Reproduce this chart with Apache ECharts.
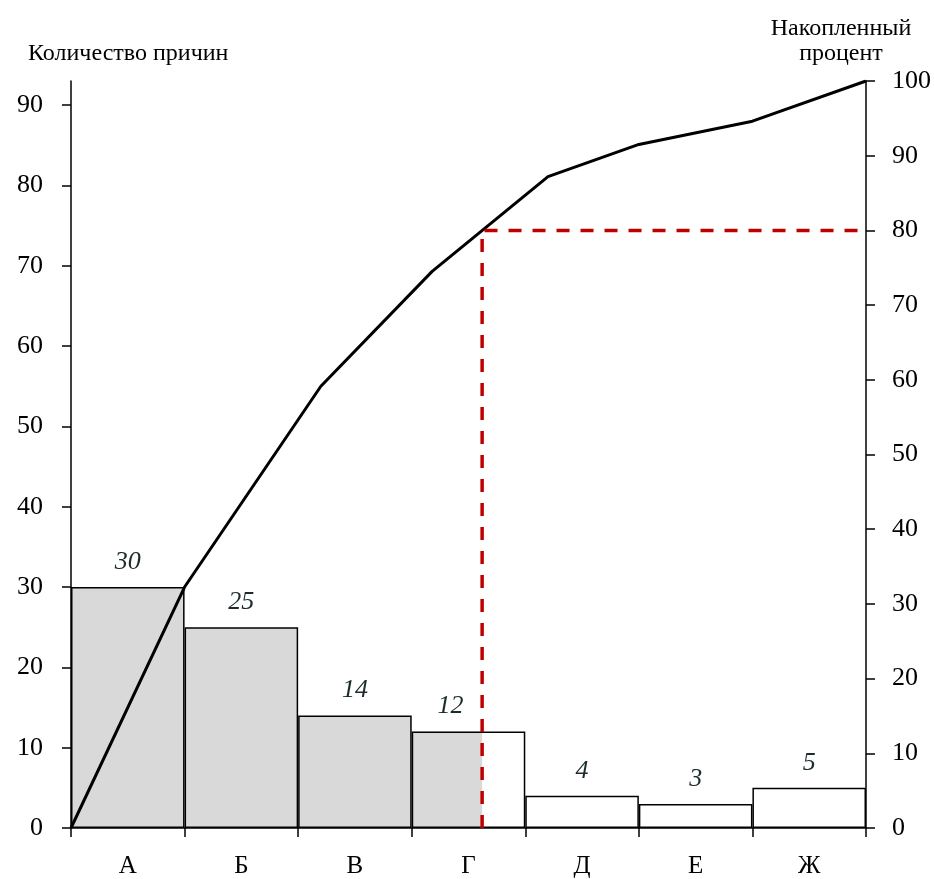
<!DOCTYPE html>
<html><head><meta charset="utf-8">
<script src="https://cdn.jsdelivr.net/npm/echarts@6/dist/echarts.min.js"></script>
<style>html,body{margin:0;padding:0;background:#fff}#c{width:934px;height:879px}</style>
</head><body><div id="c"></div>
<script>
// ---- data ----
const categories = ['А', 'Б', 'В', 'Г', 'Д', 'Е', 'Ж'];
const counts = [30, 25, 14, 12, 4, 3, 5];
const grayCount = 3; // bars fully shaded
const cumX = [0, 1, 2.2, 3.18, 4.2, 5, 6, 7];          // vertex positions in category units
const cumCounts = [0, 30, 55, 69.3, 81.1, 85.1, 88, 93]; // cumulative count at each vertex
const cutoffX = 3.62;     // position of the 80% cut
const cutoffPct = 80;
const leftTicks = [0, 10, 20, 30, 40, 50, 60, 70, 80, 90];
const rightTicks = [0, 10, 20, 30, 40, 50, 60, 70, 80, 90, 100];

const total = counts.reduce((a, b) => a + b, 0);
const FONT = '"Liberation Serif", "DejaVu Serif", serif';

const barData = counts.map((v, i) => {
  const d = {
    value: v,
    itemStyle: { color: i < grayCount ? '#d9d9d9' : (i === grayCount ? 'rgba(0,0,0,0)' : '#ffffff') }
  };
  if (i === grayCount) d.label = { offset: [-18, 0] };
  return d;
});

const chart = echarts.init(document.getElementById('c'), null, { renderer: 'canvas' });
chart.setOption({
  animation: false,
  backgroundColor: '#fff',
  title: [
    { text: 'Количество причин', left: 23, top: 37,
      textStyle: { fontFamily: FONT, fontSize: 24, fontWeight: 'normal', color: '#000' } },
    { text: 'Накопленный\nпроцент', left: 836, top: 11, textAlign: 'center',
      textStyle: { fontFamily: FONT, fontSize: 24, fontWeight: 'normal', color: '#000', lineHeight: 25, align: 'center' } }
  ],
  grid: { left: 71, right: 68, top: 81, bottom: 51, containLabel: false },
  xAxis: [
    { type: 'category', data: categories, boundaryGap: true,
      axisLine: { lineStyle: { color: '#000', width: 1.5 } },
      axisTick: { show: true, length: 9, lineStyle: { color: '#000', width: 1.5 } },
      axisLabel: { color: '#000', fontFamily: FONT, fontSize: 25, margin: 26 },
      splitLine: { show: false } },
    { type: 'value', min: 0, max: categories.length, show: false }
  ],
  yAxis: [
    { type: 'value', min: 0, max: total, position: 'left',
      axisLine: { show: true, lineStyle: { color: '#000', width: 1.5 } },
      axisTick: { show: true, length: 9, customValues: leftTicks, lineStyle: { color: '#000', width: 1.5 } },
      axisLabel: { customValues: leftTicks, color: '#000', fontFamily: FONT, fontSize: 26, margin: 28 },
      splitLine: { show: false } },
    { type: 'value', min: 0, max: 100, position: 'right',
      axisLine: { show: true, lineStyle: { color: '#000', width: 1.5 } },
      axisTick: { show: true, length: 9, customValues: rightTicks, lineStyle: { color: '#000', width: 1.5 } },
      axisLabel: { customValues: rightTicks, color: '#000', fontFamily: FONT, fontSize: 26, margin: 26 },
      splitLine: { show: false } }
  ],
  series: [
    { type: 'line', xAxisIndex: 1, yAxisIndex: 0, z: 1,
      data: [[grayCount, counts[grayCount]], [cutoffX, counts[grayCount]]],
      symbol: 'none', lineStyle: { width: 0, opacity: 0 },
      areaStyle: { color: '#d9d9d9', opacity: 1 } },
    { type: 'bar', xAxisIndex: 0, yAxisIndex: 0, z: 2,
      data: barData, barWidth: '100%', barGap: '0%',
      itemStyle: { borderColor: '#000', borderWidth: 1.5 },
      label: { show: true, position: 'top', distance: 12, color: '#1c2b2b',
        fontFamily: FONT, fontSize: 26, fontStyle: 'italic' } },
    { type: 'line', xAxisIndex: 1, yAxisIndex: 0, z: 3,
      data: cumX.map((x, i) => [x, cumCounts[i]]),
      symbol: 'none', lineStyle: { color: '#000', width: 3 } },
    { type: 'line', xAxisIndex: 1, yAxisIndex: 1, z: 4,
      data: [[cutoffX, 0], [cutoffX, cutoffPct], [categories.length, cutoffPct]],
      symbol: 'none', lineStyle: { color: '#c00000', width: 3.5, type: [13, 11] } }
  ]
});
</script></body></html>
